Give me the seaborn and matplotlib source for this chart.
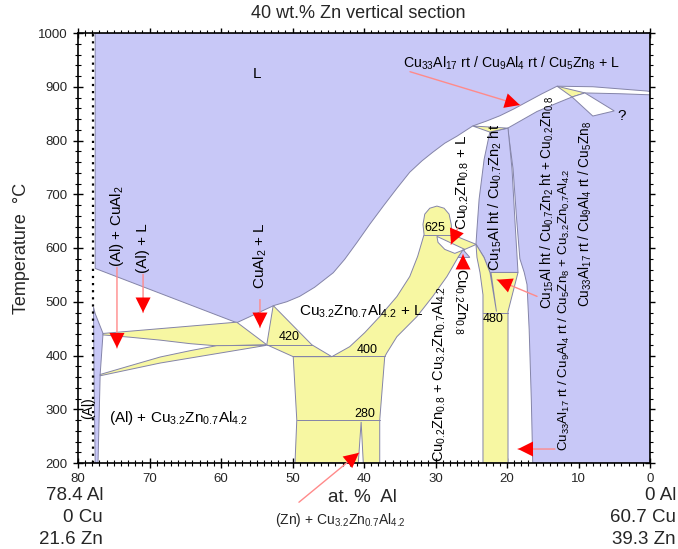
import matplotlib
matplotlib.use("Agg")
import matplotlib.pyplot as plt
from matplotlib.ticker import MultipleLocator
import seaborn as sns

# ---------------- phase boundaries (at.% Al, temperature in deg C) ----------------
# liquid field
liq_al = [77.6, 0.0, 0.0, 0.4, 4.2, 8.0, 13.0, 15.1, 17.2, 19.0, 21.0, 22.9, 24.8,
          27.0, 28.7, 30.4, 31.9, 33.6, 35.4, 37.3, 39.2, 41.0, 42.7, 44.3, 46.9,
          49.0, 50.8, 52.6, 57.8, 77.6]
liq_t = [1000, 1000, 891, 892, 896, 900, 901, 887, 872, 859, 846, 836, 827,
         808, 795, 778, 762, 741, 711, 678, 644, 610, 579, 554, 527,
         510, 500, 493, 461, 562]

# gamma field (Cu33Al17 / Cu9Al4 / Cu5Zn8)
gam_al = [0.0, 4.2, 9.1, 10.9, 13.3, 15.8, 19.9, 19.15, 18.65, 18.2, 17.6, 17.2, 16.9, 16.6, 16.4, 0.0]
gam_t = [885, 887, 888.5, 881, 868, 854, 823, 747, 653, 580, 555, 532, 448, 318, 200, 200]

# beta field (Cu15Al ht / Cu0.7Zn2 ht)
bet_al = [22.4, 23.2, 23.9, 24.2, 24.34, 23.2, 22.4, 18.46, 18.9, 19.3, 19.86]
bet_t = [815.7, 765, 691, 635, 607, 582.5, 554.5, 554.5, 653, 747, 823]

# epsilon field (Cu0.2Zn0.8)
eps_al = [26.15, 25.2, 26.85]
eps_t = [597, 582.5, 582.5]

# (Al) solid solution
alss_al = [77.83, 77.6, 76.5, 76.9, 77.2, 77.6, 77.76]
alss_t = [490, 478, 441, 365, 200, 200, 365]

# three-phase fields
tri_a_al = [76.5, 57.8, 53.6, 60.6, 64.3, 68.5, 72.7, 76.5]
tri_a_t = [441, 462, 420, 418, 422, 428.6, 434, 438.3]

tri_b_al = [76.9, 72.7, 68.5, 64.3, 60.6, 53.6, 68.5, 76.9]
tri_b_t = [364.7, 381, 397.2, 409, 418.3, 419, 386, 362.3]

tri_420_al = [52.7, 53.6, 49.9, 44.5, 47.3]
tri_420_t = [493, 420, 397.8, 397.8, 420]

tau_al = [44.5, 42.0, 39.9, 37.8, 35.4, 33.6, 32.5, 31.8, 31.6,
          31.75, 31.5, 30.8, 29.8, 28.8, 28.1, 27.8, 27.7,
          24.3, 25.9, 26.85, 28.4, 30.4, 32.6, 35.4, 36.8, 37.1,
          37.8, 37.8, 40.1, 40.4, 40.8, 49.65, 49.4, 49.9]
tau_t = [397.8, 416.4, 442.5, 472.4, 509.7, 547, 584.3, 616, 625,
         644, 663, 674, 678, 674, 663, 644, 625,
         606.7, 597.4, 582.5, 547, 509.7, 472.4, 435, 405, 397.8,
         280, 200, 200, 276.5, 200, 200, 280, 397.8]

lens_al = [29.8, 25.9, 27.3, 28.7, 29.65]
lens_t = [621.6, 597.4, 590, 597.4, 610.5]

col480_al = [24.34, 24.2, 23.78, 23.36, 23.36, 23.36, 19.86, 19.86, 18.46, 22.24, 21.47, 22.38, 23.22]
col480_t = [607, 582.5, 554.5, 513, 481.7, 200, 200, 481.7, 554.5, 554.5, 481.7, 554.5, 582.5]

top_tri_al = [24.8, 19.9, 22.4]
top_tri_t = [827, 823, 815.7]
rt_tri_al = [13.0, 9.1, 10.9]
rt_tri_t = [901, 888.5, 881]

# gamma two-phase tongue running towards the "?" region
tongue_al = [10.9, 9.1, 5.0, 8.0]
tongue_t = [881, 888.5, 855, 845.5]

# invariant temperatures and their extents
inv_t = [625, 420, 400, 280, 480]
inv_lo = [31.6, 53.6, 49.9, 49.4, 23.36]
inv_hi = [27.7, 47.3, 37.1, 37.8, 19.86]

# ---------------- styling ----------------
sns.set_theme(style="ticks")
plt.rcParams['font.family'] = ['Liberation Sans', 'DejaVu Sans']
plt.rcParams['mathtext.fontset'] = 'custom'
plt.rcParams['mathtext.rm'] = 'Liberation Sans'
plt.rcParams['mathtext.it'] = 'Liberation Sans:italic'
plt.rcParams['mathtext.bf'] = 'Liberation Sans:bold'

BLUE = '#c8c8f7'
YEL = '#f7f7a2'
EDGE = '#8484a8'
LW = 0.7

fig = plt.figure(figsize=(6.78, 5.49), dpi=100)
ax = fig.add_axes([78 / 678, 1 - 463 / 549, 572 / 678, 430 / 549])
ax.set_facecolor('white')


def region(al, t, color):
    ax.fill(al, t, facecolor=color, edgecolor=EDGE, linewidth=LW, zorder=2)


region(liq_al, liq_t, BLUE)
region(gam_al, gam_t, BLUE)
region(bet_al, bet_t, BLUE)
region(alss_al, alss_t, BLUE)
region(tri_a_al, tri_a_t, YEL)
region(tri_b_al, tri_b_t, YEL)
region(tri_420_al, tri_420_t, YEL)
region(tau_al, tau_t, YEL)
region(lens_al, lens_t, 'white')
region(col480_al, col480_t, YEL)
region(top_tri_al, top_tri_t, YEL)
region(rt_tri_al, rt_tri_t, YEL)
region(tongue_al, tongue_t, 'white')
region(eps_al, eps_t, BLUE)

for t, lo, hi in zip(inv_t, inv_lo, inv_hi):
    sns.lineplot(x=[lo, hi], y=[t, t], color=EDGE, linewidth=LW, ax=ax, zorder=3)

# pure-Al end composition
ax.plot([77.9, 77.9], [200, 1000], color='black', linestyle=(0, (1, 2.2)), linewidth=1.6, zorder=4)

ax.set_xlim(80, 0)
ax.set_ylim(200, 1000)
ax.xaxis.set_major_locator(MultipleLocator(10))
ax.xaxis.set_minor_locator(MultipleLocator(1))
ax.yaxis.set_major_locator(MultipleLocator(100))
ax.yaxis.set_minor_locator(MultipleLocator(20))
ax.tick_params(which='both', direction='inout', top=True, right=True, color='black',
               labelsize=9.5, pad=4)
ax.tick_params(which='major', length=7, width=1)
ax.tick_params(which='minor', length=4, width=0.8)
for s in ax.spines.values():
    s.set_color('black')
    s.set_linewidth(1.2)
    s.set_zorder(5)
ax.set_xlabel('')
ax.set_ylabel('Temperature  \u00b0C', fontsize=13, labelpad=6)


def f(s):
    # chemical formula with subscripts
    return r'$\mathregular{' + s + '}$'


TAU = f('Cu_{3.2}Zn_{0.7}Al_{4.2}')
EPS = f('Cu_{0.2}Zn_{0.8}')
GAM = f('Cu_{33}Al_{17}') + ' rt / ' + f('Cu_9Al_4') + ' rt / ' + f('Cu_5Zn_8')
BET = f('Cu_{15}Al') + ' ht / ' + f('Cu_{0.7}Zn_2') + ' ht'
CUAL2 = f('CuAl_2')

txt = dict(color='black', ha='center', va='center', zorder=6)
ax.text(55.0, 924, 'L', fontsize=11, **txt)
ax.text(74.5, 640, '(Al) + ' + CUAL2, fontsize=11, rotation=90, **txt)
ax.text(70.9, 600, '(Al) + L', fontsize=11, rotation=90, **txt)
ax.text(54.55, 586, CUAL2 + ' + L', fontsize=11, rotation=90, **txt)
ax.text(40.45, 482, TAU + ' + L', fontsize=11, **txt)
ax.text(66.0, 284, '(Al) + ' + TAU, fontsize=11, **txt)
ax.text(78.6, 303, '(Al)', fontsize=10, rotation=90, **txt)
ax.text(50.5, 435, '420', fontsize=9, **txt)
ax.text(39.6, 411, '400', fontsize=9, **txt)
ax.text(39.9, 291, '280', fontsize=9, **txt)
ax.text(30.1, 638, '625', fontsize=9, **txt)
ax.text(21.96, 467, '480', fontsize=9, **txt)
ax.text(26.15, 722, EPS + ' + L', fontsize=11, rotation=90, **txt)
ax.text(21.7, 694, BET, fontsize=10.5, rotation=90, **txt)
ax.text(26.6, 500, EPS, fontsize=10.5, rotation=-90, **txt)
ax.text(29.5, 366, EPS + ' + ' + TAU, fontsize=10.5, rotation=90, **txt)
ax.text(19.4, 943, GAM + ' + L', fontsize=10.2, **txt)
ax.text(14.3, 685, BET + ' + ' + EPS, fontsize=9.8, rotation=90, **txt)
ax.text(11.9, 485, GAM + ' + ' + TAU, fontsize=9.6, rotation=90, **txt)
ax.text(9.1, 663, GAM, fontsize=9.8, rotation=90, **txt)
ax.text(3.9, 845, '?', fontsize=11, **txt)

# pointer arrows: (tail_al, tail_t, tip_al, tip_t)
arr_tail_al = [74.55, 70.9, 54.55, 26.85, 26.15, 33.57, 15.8, 13.3, 49.1]
arr_tail_t = [564, 551, 504, 638, 566, 928, 510, 226, 127]
arr_tip_al = [74.55, 70.9, 54.55, 27.83, 26.15, 18.2, 21.4, 18.46, 40.7]
arr_tip_t = [414, 480, 452, 607, 588, 866, 541, 226, 219]

for x0, y0, x1, y1 in zip(arr_tail_al, arr_tail_t, arr_tip_al, arr_tip_t):
    ax.annotate('', xy=(x1, y1), xytext=(x0, y0), xycoords='data', annotation_clip=False,
                arrowprops=dict(arrowstyle='-', color='#ff8a8a', lw=1.0, shrinkA=0, shrinkB=0),
                zorder=7)
    ax.annotate('', xy=(x1, y1), xytext=(x0, y0), xycoords='data', annotation_clip=False,
                arrowprops=dict(arrowstyle='-|>,head_length=0.9,head_width=0.45', color='red',
                                lw=0, shrinkA=0, shrinkB=0),
                zorder=8)

# figure annotations
fig.text(358 / 678, 1 - 13 / 549, '40 wt.% Zn vertical section', fontsize=13, ha='center', va='center')
fig.text(362 / 678, 1 - 498 / 549, 'at. %  Al', fontsize=13.5, ha='center', va='center')
fig.text(340 / 678, 1 - 520 / 549, '(Zn) + ' + TAU, fontsize=10, ha='center', va='center')
left_lbl = ['78.4 Al', '0 Cu', '21.6 Zn']
right_lbl = ['0 Al', '60.7 Cu', '39.3 Zn']
for i, (a, b) in enumerate(zip(left_lbl, right_lbl)):
    y = 1 - (496 + 22 * i) / 549
    fig.text(103 / 678, y, a, fontsize=13.5, ha='right', va='center')
    fig.text(676 / 678, y, b, fontsize=13.5, ha='right', va='center')

fig.savefig('out.png', dpi=100)
